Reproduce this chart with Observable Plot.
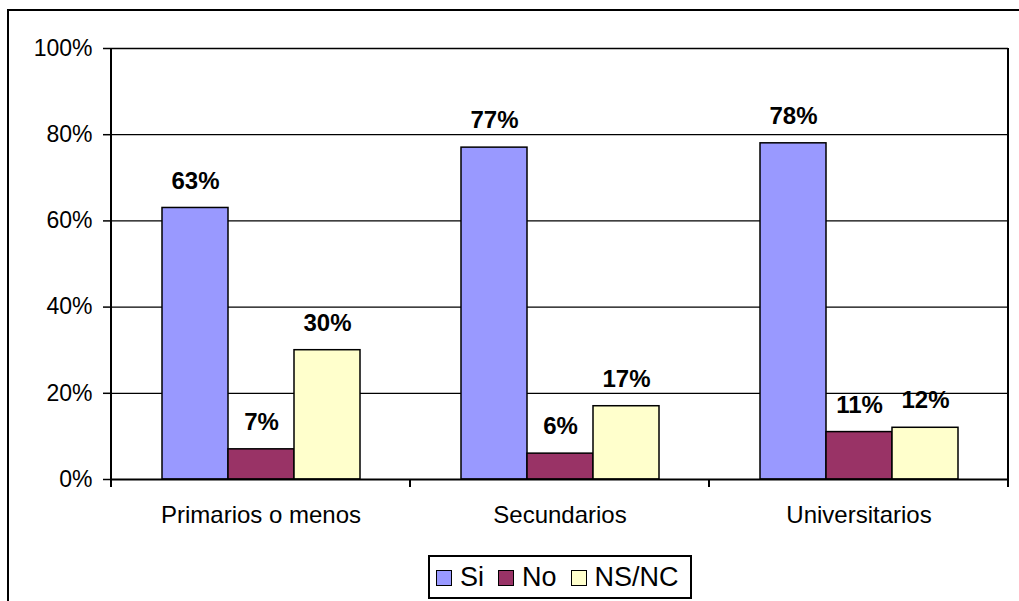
<!DOCTYPE html>
<html>
<head>
<meta charset="utf-8">
<script src="https://cdn.jsdelivr.net/npm/d3@7"></script>
<script src="https://cdn.jsdelivr.net/npm/@observablehq/plot@0.6"></script>
<style>
  html, body { margin: 0; padding: 0; background: #fff; overflow: hidden; }
  #wrap { position: relative; width: 1019px; height: 601px; overflow: hidden; background: #fff;
          font-family: "Liberation Sans", Arial, Helvetica, sans-serif; }
  #chart { position: absolute; left: 0; top: 0; }
  #frame { position: absolute; left: 7px; top: 9px; width: 1100px; height: 700px;
           border: 2px solid #000; background: transparent; pointer-events: none; }
  #legend { position: absolute; left: 428px; top: 555px; width: 254px; height: 40px;
            border: 2px solid #000; background: #fff; display: flex; align-items: center;
            padding-left: 6px; box-sizing: content-box; font-size: 27px; line-height: 1; color: #000; }
  .item { display: flex; align-items: center; margin-right: 14px; }
  .sw { width: 14px; height: 14px; border: 1.6px solid #000; margin-right: 8px; margin-top: 2px; }
</style>
</head>
<body>
<div id="wrap">
  <div id="chart"></div>
  <div id="frame"></div>
  <div id="legend"></div>
</div>
<script>
const groups = ["Primarios o menos", "Secundarios", "Universitarios"];
const series = ["Si", "No", "NS/NC"];
const si = [63, 77, 78];
const no = [7, 6, 11];
const nsnc = [30, 17, 12];
const colors = ["#9999FF", "#993366", "#FFFFCC"];
const yTicks = [0, 20, 40, 60, 80, 100];

const seriesValues = [si, no, nsnc];
const data = groups.flatMap((g, i) =>
  series.map((s, j) => ({group: g, serie: s, value: seriesValues[j][i]}))
);

const chart = Plot.plot({
  width: 1019,
  height: 540,
  marginLeft: 111,
  marginRight: 11,
  marginTop: 48,
  marginBottom: 61,
  style: {fontFamily: '"Liberation Sans", Arial, Helvetica, sans-serif', fontSize: "23px", color: "#000", background: "transparent", overflow: "visible"},
  fx: {domain: groups, padding: 0, label: null},
  x: {domain: series, paddingInner: 0, paddingOuter: 0.75, axis: null},
  y: {domain: [0, 100], label: null},
  color: {domain: series, range: colors},
  marks: [
    Plot.ruleY(yTicks.slice(1), {stroke: "#000", strokeWidth: 1.3}),
    Plot.barY(data, {fx: "group", x: "serie", y: "value", fill: "serie", stroke: "#000", strokeWidth: 1.5, inset: 0}),
    Plot.text(data, {fx: "group", x: "serie", y: "value", text: d => d.value + "%", dy: -27, fontWeight: "bold", fontSize: 24, fill: "#000"}),
    Plot.ruleY([0], {stroke: "#000", strokeWidth: 2}),
    Plot.axisY({ticks: yTicks, tickFormat: d => d + "%", tickSize: 8, tickPadding: 11, fontSize: 23, anchor: "left", label: null, stroke: "#000", strokeWidth: 1.5}),
    Plot.axisFx({anchor: "bottom", tickSize: 0, tickPadding: 26, label: null, fontSize: 24})
  ]
});
document.getElementById("chart").appendChild(chart);

// axis line, plot-area right border and category boundary ticks, from Plot's own scales
const fx = chart.scale("fx");
const y = chart.scale("y");
const svg = d3.select(chart);
const y0 = y.apply(0), yTop = y.apply(100);
const bw = fx.bandwidth;
const bounds = groups.map(g => fx.apply(g)).concat([fx.apply(groups[groups.length - 1]) + bw]);
const gl = svg.append("g").attr("stroke", "#000").attr("fill", "none");
gl.append("line").attr("x1", bounds[0]).attr("x2", bounds[0]).attr("y1", yTop).attr("y2", y0 + 8).attr("stroke-width", 2);
const last = bounds[bounds.length - 1];
gl.append("line").attr("x1", last).attr("x2", last).attr("y1", yTop).attr("y2", y0 + 8).attr("stroke-width", 2);
bounds.slice(1, -1).forEach(b => {
  gl.append("line").attr("x1", b).attr("x2", b).attr("y1", y0).attr("y2", y0 + 8).attr("stroke-width", 2);
});

// legend
const legend = document.getElementById("legend");
series.forEach((s, i) => {
  const item = document.createElement("div");
  item.className = "item";
  const sw = document.createElement("div");
  sw.className = "sw";
  sw.style.background = colors[i];
  const t = document.createElement("span");
  t.textContent = s;
  item.appendChild(sw);
  item.appendChild(t);
  legend.appendChild(item);
});
</script>
</body>
</html>
